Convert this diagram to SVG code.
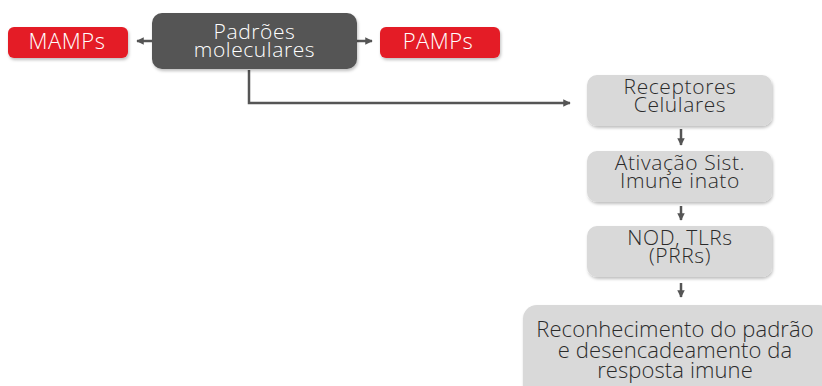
<svg xmlns="http://www.w3.org/2000/svg" width="822" height="386" viewBox="0 0 822 386">
<style>
.t{font-family:"Open Sans",Lato,"Liberation Sans",sans-serif;font-size:21px;font-weight:300;letter-spacing:0.6px;text-anchor:middle}
.big{font-size:22px;letter-spacing:0.1px}
.lab{font-size:22px;letter-spacing:0.5px}
.w{fill:#ffffff}
.d{fill:#2b2b2b}
.red{fill:#e41e26}
.g{fill:#d9d9d9}
.c{stroke:#555555;stroke-width:2.5;fill:none}
</style>
<defs>
<filter id="sh" x="-10%" y="-10%" width="130%" height="140%">
<feDropShadow dx="1" dy="2" stdDeviation="1.5" flood-color="#000" flood-opacity="0.25"/>
</filter>
<marker id="ah" viewBox="0 0 10 10" refX="9" refY="5" markerWidth="3" markerHeight="3" orient="auto" markerUnits="strokeWidth">
<path d="M0,0 L10,5 L0,10 z" fill="#555555"/>
</marker>
</defs>
<rect width="822" height="386" fill="#ffffff"/>
<g id="connectors">
<path class="c" d="M152,41 H137" marker-end="url(#ah)"/>
<path class="c" d="M357,41 H372" marker-end="url(#ah)"/>
<path class="c" d="M249,70 V103 H570" marker-end="url(#ah)"/>
<path class="c" d="M681,129 V145" marker-end="url(#ah)"/>
<path class="c" d="M681,206 V220" marker-end="url(#ah)"/>
<path class="c" d="M681,283 V297" marker-end="url(#ah)"/>
</g>
<g id="mamps">
<rect class="red" x="8" y="27" width="120" height="31" rx="6" filter="url(#sh)"/>
<text class="t lab w" x="67" y="49">MAMPs</text>
</g>
<g id="padroes">
<rect x="152" y="13" width="205" height="56" rx="10" fill="#555555" filter="url(#sh)"/>
<text class="t w" x="254.5" y="39">Padrões</text>
<text class="t w" x="254.5" y="57">moleculares</text>
</g>
<g id="pamps">
<rect class="red" x="380" y="27" width="120" height="31" rx="6" filter="url(#sh)"/>
<text class="t lab w" x="438" y="49">PAMPs</text>
</g>
<g id="receptores">
<rect class="g" x="587" y="75" width="185" height="51" rx="10" filter="url(#sh)"/>
<text class="t d" x="680" y="94">Receptores</text>
<text class="t d" x="680" y="112">Celulares</text>
</g>
<g id="ativacao">
<rect class="g" x="587" y="151" width="185" height="51" rx="10" filter="url(#sh)"/>
<text class="t d" x="680" y="170">Ativação Sist.</text>
<text class="t d" x="680" y="188">Imune inato</text>
</g>
<g id="nod">
<rect class="g" x="587" y="226" width="185" height="51" rx="10" filter="url(#sh)"/>
<text class="t d" x="680" y="245">NOD, TLRs</text>
<text class="t d" x="680" y="263">(PRRs)</text>
</g>
<g id="reconhecimento">
<rect class="g" x="523" y="305" width="310" height="100" rx="14" filter="url(#sh)"/>
<text class="t big d" x="675" y="337">Reconhecimento do padrão</text>
<text class="t big d" x="675" y="357.5">e desencadeamento da</text>
<text class="t big d" x="675" y="378">resposta imune</text>
</g>
</svg>
